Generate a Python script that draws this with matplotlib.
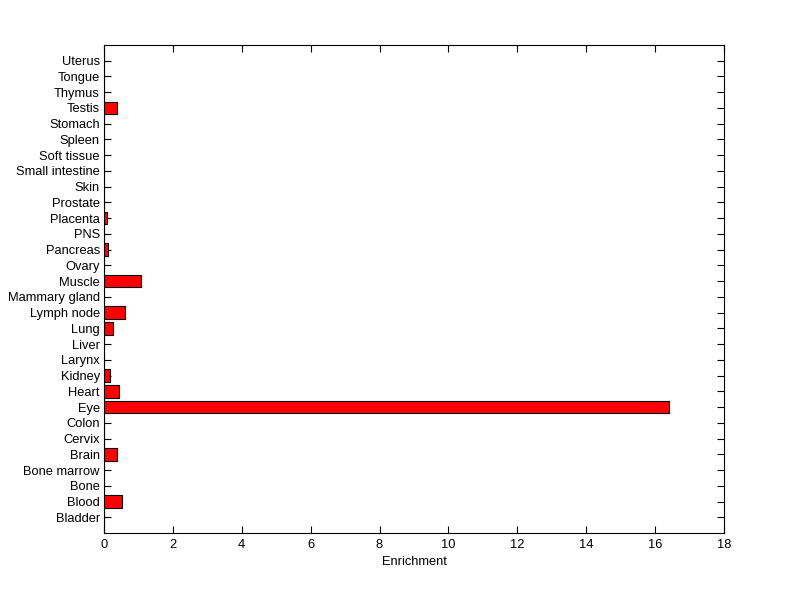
import numpy as np
import matplotlib.pyplot as plt

plt.rcParams['font.family'] = ['Liberation Sans', 'DejaVu Sans']

# Tissues, bottom to top
tissues = ["Bladder", "Blood", "Bone", "Bone marrow", "Brain", "Cervix", "Colon",
           "Eye", "Heart", "Kidney", "Larynx", "Liver", "Lung", "Lymph node",
           "Mammary gland", "Muscle", "Ovary", "Pancreas", "PNS", "Placenta",
           "Prostate", "Skin", "Small intestine", "Soft tissue", "Spleen",
           "Stomach", "Testis", "Thymus", "Tongue", "Uterus"]
enrichment = [0, 0.53, 0, 0, 0.38, 0, 0,
              16.4, 0.44, 0.17, 0, 0, 0.26, 0.61,
              0, 1.08, 0, 0.12, 0, 0.08,
              0, 0, 0, 0, 0,
              0, 0.38, 0, 0, 0]
xticks = np.arange(0, 19, 2)

fig = plt.figure(figsize=(8, 5.99), dpi=100)
ax = fig.add_axes([0.13, 0.11, 0.775, 0.815])
ax.set_axisbelow(True)

pos = np.arange(1, len(tissues) + 1)
ax.barh(pos, enrichment, height=0.8, color='#ff0000', edgecolor='black', linewidth=0.8)

ax.set_xlim(0, 18)
ax.set_ylim(0, len(tissues) + 1)
ax.set_xticks(xticks)
ax.set_yticks(pos)
ax.set_yticklabels(tissues)
ax.set_xlabel("Enrichment", fontsize=9.3, labelpad=4)
ax.tick_params(direction='in', length=5, width=0.8, labelsize=9.3,
               top=True, right=True)
ax.tick_params(axis='x', pad=4)
ax.tick_params(axis='y', pad=3)
for s in ax.spines.values():
    s.set_linewidth(0.8)
    s.set_zorder(3)

fig.savefig("out.png", dpi=100)
